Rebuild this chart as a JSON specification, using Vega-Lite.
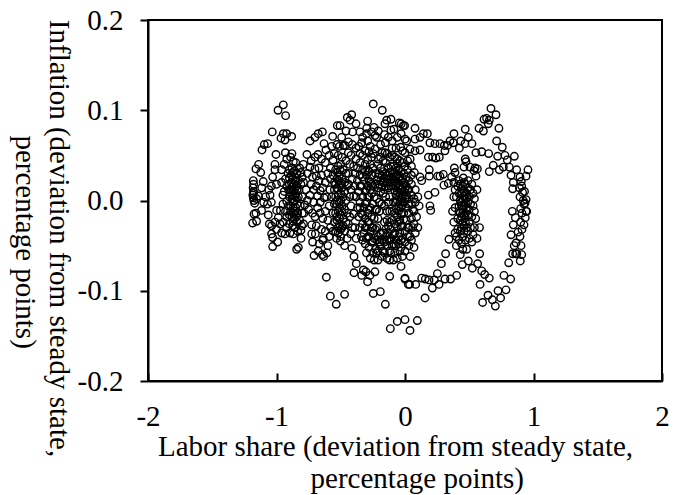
{"$schema":"https://vega.github.io/schema/vega-lite/v6.json","width":514,"height":361,"autosize":"none","padding":{"left":148,"top":20,"right":21,"bottom":114},"background":"white","view":{"stroke":"black","strokeWidth":2,"fill":null},
"config":{"axis":{"labelFont":"Liberation Serif","titleFont":"Liberation Serif","labelFontSize":29,"titleFontSize":29,"titleFontWeight":"normal","labelColor":"black","titleColor":"black","grid":false,"domainColor":"black","domainWidth":2,"tickColor":"black","tickWidth":2}},
"data":{"values":[
{"x":0.342,"y":-0.043},{"x":0.316,"y":-0.059},{"x":0.283,"y":-0.07},{"x":0.252,"y":-0.081},{"x":0.402,"y":-0.083},{"x":0.355,"y":-0.087},{"x":0.311,"y":-0.087},{"x":0.265,"y":-0.093},{"x":0.213,"y":-0.097},{"x":0.228,"y":-0.088},{"x":0.187,"y":-0.088},{"x":0.158,"y":-0.087},{"x":0.13,"y":-0.086},{"x":0.083,"y":-0.093},{"x":0.036,"y":-0.093},{"x":0.0,"y":-0.087},{"x":0.156,"y":-0.108},{"x":0.446,"y":-0.071},{"x":0.493,"y":-0.067},{"x":0.524,"y":-0.075},{"x":0.565,"y":-0.07},{"x":0.581,"y":-0.059},{"x":0.597,"y":-0.078},{"x":0.62,"y":-0.082},{"x":0.656,"y":-0.086},{"x":0.584,"y":-0.093},{"x":0.646,"y":-0.105},{"x":0.604,"y":-0.113},{"x":0.68,"y":-0.11},{"x":0.744,"y":-0.108},{"x":0.786,"y":-0.099},{"x":0.724,"y":-0.1},{"x":0.703,"y":-0.117},{"x":0.77,"y":-0.083},{"x":0.822,"y":-0.087},{"x":0.807,"y":-0.069},{"x":0.838,"y":-0.059},{"x":0.861,"y":-0.059},{"x":0.897,"y":-0.067},{"x":0.908,"y":-0.06},{"x":0.825,"y":-0.038},{"x":0.843,"y":-0.027},{"x":0.835,"y":-0.012},{"x":0.859,"y":-0.019},{"x":0.9,"y":-0.009},{"x":0.934,"y":-0.003},{"x":0.942,"y":-0.012},{"x":0.936,"y":-0.019},{"x":0.926,"y":-0.027},{"x":0.91,"y":-0.032},{"x":0.895,"y":-0.04},{"x":0.864,"y":-0.047},{"x":0.903,"y":-0.05},{"x":0.0,"y":-0.132},{"x":0.096,"y":-0.133},{"x":0.039,"y":-0.144},
{"x":-0.612,"y":-0.085},{"x":-0.581,"y":-0.106},{"x":-0.535,"y":-0.115},{"x":-0.47,"y":-0.104},{"x":-0.413,"y":-0.053},{"x":-0.397,"y":-0.062},{"x":-0.379,"y":-0.07},{"x":-0.397,"y":-0.08},{"x":-0.337,"y":-0.083},{"x":-0.324,"y":-0.077},{"x":-0.291,"y":-0.09},{"x":-0.273,"y":-0.083},{"x":-0.234,"y":-0.079},{"x":-0.304,"y":-0.079},{"x":-0.119,"y":-0.084},{"x":-0.247,"y":-0.103},{"x":-0.192,"y":-0.101},{"x":-0.153,"y":-0.115},{"x":-0.031,"y":-0.073},{"x":0.0,"y":-0.086},{"x":0.026,"y":-0.093},{"x":-0.06,"y":-0.134},{"x":-0.114,"y":-0.142},
{"x":-1.03,"y":-0.051},{"x":-0.843,"y":-0.054},{"x":-0.83,"y":-0.052},{"x":-0.708,"y":-0.061},{"x":-0.675,"y":-0.056},{"x":-0.633,"y":-0.062},{"x":-0.607,"y":-0.058},{"x":-0.643,"y":-0.06},{"x":-0.423,"y":-0.037},{"x":-0.503,"y":-0.045},{"x":-0.532,"y":-0.042},{"x":-0.719,"y":-0.046},{"x":-0.636,"y":-0.042},{"x":-0.667,"y":-0.048},{"x":-0.991,"y":-0.046},{"x":-1.03,"y":-0.041},{"x":-0.809,"y":-0.042},{"x":-1.186,"y":-0.025},{"x":-1.155,"y":-0.023},{"x":-1.175,"y":-0.015},{"x":-1.16,"y":-0.014},{"x":-1.116,"y":-0.011},{"x":-1.064,"y":-0.016},{"x":-0.999,"y":-0.011},{"x":-0.726,"y":-0.027},{"x":-0.786,"y":-0.014},{"x":-0.726,"y":-0.037},{"x":-0.698,"y":-0.037},{"x":-0.804,"y":-0.028},{"x":-1.056,"y":-0.026},{"x":-1.038,"y":-0.028},{"x":-1.012,"y":-0.024},{"x":-0.973,"y":-0.026},{"x":-0.947,"y":-0.024},{"x":-0.921,"y":-0.03},{"x":-0.895,"y":-0.036},{"x":-0.869,"y":-0.037},{"x":-1.038,"y":-0.037},{"x":-1.0,"y":-0.032},{"x":-0.96,"y":-0.036},{"x":-0.934,"y":-0.037},{"x":-0.986,"y":-0.019},
{"x":-0.947,"y":0.106},{"x":-0.988,"y":0.1},{"x":-0.929,"y":0.094},{"x":-1.033,"y":0.076},{"x":-0.247,"y":0.107},{"x":-0.177,"y":0.1},{"x":-0.415,"y":0.095},{"x":-0.449,"y":0.092},{"x":-0.428,"y":0.089},{"x":-0.381,"y":0.085},{"x":-0.527,"y":0.083},{"x":-0.506,"y":0.083},{"x":-0.291,"y":0.088},{"x":-0.109,"y":0.09},{"x":-0.143,"y":0.089},{"x":-0.156,"y":0.085},{"x":-0.044,"y":0.086},{"x":-0.013,"y":0.083},{"x":-0.241,"y":0.081},{"x":-0.208,"y":0.077},{"x":-0.086,"y":0.079},{"x":-0.298,"y":0.08},{"x":-0.459,"y":0.077},{"x":-0.407,"y":0.076},{"x":-0.35,"y":0.076},{"x":-0.643,"y":0.076},{"x":-0.675,"y":0.074},{"x":-0.701,"y":0.07},{"x":-0.739,"y":0.066},{"x":-0.563,"y":0.071},{"x":-0.493,"y":0.07},{"x":-0.63,"y":0.063},{"x":-0.337,"y":0.064},{"x":-0.381,"y":0.058},{"x":-0.467,"y":0.061},{"x":-0.947,"y":0.074},{"x":-0.921,"y":0.074},{"x":-0.882,"y":0.071},{"x":-0.965,"y":0.069},{"x":-0.934,"y":0.067},{"x":-1.069,"y":0.063},{"x":-1.095,"y":0.062},{"x":-1.113,"y":0.056},{"x":-1.004,"y":0.051},{"x":-0.931,"y":0.053},{"x":-0.88,"y":0.052},{"x":-0.763,"y":0.051},{"x":-0.677,"y":0.051},{"x":-0.153,"y":0.064},{"x":-0.234,"y":0.072},{"x":-0.221,"y":0.07},{"x":0.0,"y":0.068},{"x":-0.034,"y":0.059},{"x":-0.234,"y":0.057},{"x":-0.247,"y":0.052},{"x":-0.156,"y":0.053},{"x":-0.177,"y":0.053},{"x":-0.138,"y":0.052},{"x":-0.208,"y":0.046},{"x":-0.381,"y":0.046},{"x":-0.441,"y":0.053},{"x":-0.48,"y":0.061},{"x":-1.139,"y":0.04},{"x":-1.16,"y":0.035},{"x":-1.123,"y":0.031},{"x":-1.012,"y":0.04},{"x":-1.012,"y":0.034},{"x":-1.03,"y":0.026},{"x":-1.103,"y":0.021},{"x":-0.869,"y":0.043},{"x":-0.791,"y":0.04},{"x":-0.701,"y":0.035},{"x":-1.18,"y":0.022},
{"x":0.669,"y":0.102},{"x":0.708,"y":0.095},{"x":0.635,"y":0.091},{"x":0.615,"y":0.09},{"x":0.656,"y":0.089},{"x":0.648,"y":0.085},{"x":0.576,"y":0.08},{"x":0.61,"y":0.077},{"x":0.731,"y":0.08},{"x":0.469,"y":0.079},{"x":0.493,"y":0.07},{"x":0.521,"y":0.063},{"x":0.381,"y":0.074},{"x":0.713,"y":0.066},{"x":0.757,"y":0.059},{"x":0.651,"y":0.052},{"x":0.552,"y":0.053},{"x":0.597,"y":0.054},{"x":0.721,"y":0.049},{"x":0.851,"y":0.049},{"x":0.778,"y":0.05},{"x":0.796,"y":0.045},{"x":0.687,"y":0.039},{"x":0.656,"y":0.032},{"x":0.734,"y":0.034},{"x":0.765,"y":0.037},{"x":0.812,"y":0.037},{"x":0.869,"y":0.034},{"x":0.825,"y":0.028},{"x":0.957,"y":0.034},{"x":0.942,"y":0.027},{"x":0.895,"y":0.026},{"x":0.843,"y":0.02},{"x":0.908,"y":0.016},{"x":0.89,"y":0.014},{"x":0.838,"y":0.013},{"x":0.895,"y":0.004},{"x":0.942,"y":0.001},{"x":0.926,"y":-0.004},{"x":0.947,"y":-0.012},
{"x":0.078,"y":0.08},{"x":-0.029,"y":0.085},{"x":-0.003,"y":0.083},{"x":0.143,"y":0.074},{"x":0.174,"y":0.074},{"x":0.117,"y":0.07},{"x":0.078,"y":0.068},{"x":0.013,"y":0.066},{"x":0.194,"y":0.064},{"x":0.233,"y":0.063},{"x":0.272,"y":0.063},{"x":0.306,"y":0.061},{"x":0.35,"y":0.066},{"x":0.376,"y":0.064},{"x":0.423,"y":0.058},{"x":0.467,"y":0.063},{"x":0.433,"y":0.066},{"x":0.332,"y":0.061},{"x":0.311,"y":0.055},{"x":0.182,"y":0.048},{"x":0.215,"y":0.048},{"x":0.241,"y":0.047},{"x":0.267,"y":0.048},{"x":0.117,"y":0.056},{"x":0.078,"y":0.055},{"x":0.039,"y":0.057},{"x":0.0,"y":0.053},{"x":0.469,"y":0.046},{"x":0.475,"y":0.043},{"x":0.459,"y":0.037},{"x":0.506,"y":0.037},{"x":0.545,"y":0.036},{"x":0.563,"y":0.035},{"x":0.537,"y":0.033},{"x":0.552,"y":0.027},{"x":0.454,"y":0.025},{"x":0.384,"y":0.036},{"x":0.389,"y":0.031},{"x":0.298,"y":0.029},{"x":0.272,"y":0.027},{"x":0.254,"y":0.027},{"x":0.189,"y":0.034},{"x":0.189,"y":0.027},{"x":0.363,"y":0.026},{"x":0.337,"y":0.019},{"x":0.303,"y":0.017},{"x":0.233,"y":0.009},{"x":0.182,"y":0.006},{"x":0.194,"y":-0.006},{"x":0.2,"y":-0.011},{"x":0.117,"y":0.026},{"x":0.13,"y":0.022},{"x":0.073,"y":0.031},
{"x":-1.178,"y":0.018},{"x":-1.182,"y":0.014},{"x":-1.179,"y":0.01},{"x":-1.184,"y":0.006},{"x":-1.18,"y":0.003},{"x":-1.176,"y":0.0},{"x":-1.17,"y":-0.003},{"x":-1.18,"y":0.008},{"x":-1.155,"y":0.002},{"x":-1.14,"y":0.005},{"x":-1.1,"y":-0.002},{"x":-1.085,"y":0.004},{"x":-1.07,"y":-0.004},{"x":-1.05,"y":0.006},{"x":-1.04,"y":-0.002},{"x":-1.115,"y":0.014},{"x":-1.06,"y":0.012},{"x":-1.04,"y":0.016},{"x":-1.0,"y":0.018},
{"x":-0.91,"y":0.03},{"x":-0.9,"y":0.034},{"x":-0.88,"y":0.036},{"x":-0.86,"y":0.033},{"x":-0.84,"y":0.03},{"x":-0.82,"y":0.036},{"x":-0.8,"y":0.026},{"x":-0.9,"y":0.025},{"x":-0.885,"y":0.028},{"x":-0.87,"y":0.024},{"x":-0.85,"y":0.025},{"x":-0.83,"y":0.022},{"x":-0.81,"y":0.018},{"x":-0.9,"y":0.018},{"x":-0.885,"y":0.02},{"x":-0.865,"y":0.018},{"x":-0.845,"y":0.016},{"x":-0.825,"y":0.012},{"x":-0.905,"y":0.012},{"x":-0.885,"y":0.012},{"x":-0.87,"y":0.01},{"x":-0.85,"y":0.008},{"x":-0.83,"y":0.004},{"x":-0.8,"y":0.004},{"x":-0.9,"y":0.004},{"x":-0.88,"y":0.002},{"x":-0.86,"y":0.0},{"x":-0.84,"y":-0.004},{"x":-0.815,"y":-0.006},{"x":-0.91,"y":-0.006},{"x":-0.89,"y":-0.006},{"x":-0.87,"y":-0.008},{"x":-0.855,"y":-0.012},{"x":-0.835,"y":-0.014},{"x":-0.9,"y":-0.016},{"x":-0.88,"y":-0.018},{"x":-0.86,"y":-0.02},{"x":-0.84,"y":-0.024},{"x":-0.82,"y":-0.022},{"x":-0.9,"y":-0.026},{"x":-0.875,"y":-0.028},{"x":-0.855,"y":-0.03},{"x":-0.835,"y":-0.034},{"x":-0.93,"y":-0.012},{"x":-0.95,"y":-0.004},{"x":-0.94,"y":0.01},{"x":-0.77,"y":0.012},{"x":-0.76,"y":0.0},{"x":-0.75,"y":-0.01},
{"x":-0.875,"y":0.031},{"x":-0.855,"y":0.021},{"x":-0.875,"y":0.015},{"x":-0.86,"y":0.012},{"x":-0.84,"y":0.012},{"x":-0.875,"y":0.006},{"x":-0.86,"y":0.005},{"x":-0.845,"y":0.003},{"x":-0.875,"y":-0.002},{"x":-0.85,"y":-0.008},{"x":-0.865,"y":-0.014},{"x":-0.845,"y":-0.018},{"x":-0.87,"y":-0.023},{"x":-0.89,"y":-0.012},{"x":-0.895,"y":0.009},
{"x":-0.73,"y":0.018},{"x":-0.71,"y":0.012},{"x":-0.69,"y":0.016},{"x":-0.67,"y":0.022},{"x":-0.65,"y":0.028},{"x":-0.72,"y":0.026},{"x":-0.68,"y":0.005},{"x":-0.66,"y":0.011},{"x":-0.64,"y":0.014},{"x":-0.62,"y":0.02},{"x":-0.6,"y":0.03},{"x":-0.62,"y":0.042},{"x":-0.65,"y":0.046},{"x":-0.59,"y":0.05},{"x":-0.615,"y":0.056},{"x":-0.57,"y":0.06},{"x":-0.56,"y":0.045},{"x":-0.68,"y":-0.008},{"x":-0.66,"y":-0.014},{"x":-0.64,"y":-0.02},{"x":-0.62,"y":-0.012},{"x":-0.6,"y":-0.022},{"x":-0.65,"y":-0.032},{"x":-0.62,"y":-0.034},{"x":-0.59,"y":-0.04},{"x":-0.7,"y":-0.018},{"x":-0.61,"y":0.004},{"x":-0.585,"y":0.012},{"x":-0.59,"y":-0.006},
{"x":-0.56,"y":0.028},{"x":-0.54,"y":0.034},{"x":-0.52,"y":0.038},{"x":-0.5,"y":0.04},{"x":-0.48,"y":0.034},{"x":-0.46,"y":0.03},{"x":-0.55,"y":0.02},{"x":-0.53,"y":0.024},{"x":-0.51,"y":0.028},{"x":-0.49,"y":0.024},{"x":-0.47,"y":0.02},{"x":-0.45,"y":0.016},{"x":-0.55,"y":0.012},{"x":-0.53,"y":0.014},{"x":-0.51,"y":0.018},{"x":-0.49,"y":0.014},{"x":-0.47,"y":0.01},{"x":-0.54,"y":0.004},{"x":-0.52,"y":0.006},{"x":-0.5,"y":0.008},{"x":-0.48,"y":0.004},{"x":-0.46,"y":0.0},{"x":-0.55,"y":-0.004},{"x":-0.53,"y":-0.004},{"x":-0.51,"y":-0.002},{"x":-0.49,"y":-0.006},{"x":-0.47,"y":-0.01},{"x":-0.45,"y":-0.014},{"x":-0.56,"y":-0.014},{"x":-0.54,"y":-0.014},{"x":-0.52,"y":-0.012},{"x":-0.5,"y":-0.016},{"x":-0.48,"y":-0.02},{"x":-0.46,"y":-0.024},{"x":-0.55,"y":-0.024},{"x":-0.53,"y":-0.022},{"x":-0.51,"y":-0.026},{"x":-0.49,"y":-0.03},{"x":-0.47,"y":-0.034},{"x":-0.56,"y":-0.034},{"x":-0.54,"y":-0.034},{"x":-0.52,"y":-0.036},{"x":-0.5,"y":-0.04},{"x":-0.44,"y":0.03},{"x":-0.43,"y":0.04},{"x":-0.42,"y":0.012},{"x":-0.42,"y":-0.006},
{"x":-0.525,"y":0.031},{"x":-0.505,"y":0.034},{"x":-0.515,"y":0.022},{"x":-0.495,"y":0.019},{"x":-0.54,"y":0.018},{"x":-0.52,"y":0.012},{"x":-0.5,"y":0.0},{"x":-0.53,"y":0.0},{"x":-0.51,"y":-0.008},{"x":-0.53,"y":-0.018},{"x":-0.51,"y":-0.02},{"x":-0.49,"y":-0.012},{"x":-0.52,"y":-0.03},{"x":-0.5,"y":-0.032},{"x":-0.48,"y":-0.028},
{"x":-0.39,"y":0.03},{"x":-0.37,"y":0.036},{"x":-0.35,"y":0.042},{"x":-0.33,"y":0.05},{"x":-0.31,"y":0.055},{"x":-0.39,"y":0.016},{"x":-0.37,"y":0.022},{"x":-0.35,"y":0.028},{"x":-0.33,"y":0.034},{"x":-0.31,"y":0.04},{"x":-0.29,"y":0.045},{"x":-0.27,"y":0.04},{"x":-0.38,"y":0.004},{"x":-0.36,"y":0.01},{"x":-0.34,"y":0.016},{"x":-0.32,"y":0.022},{"x":-0.3,"y":0.028},{"x":-0.28,"y":0.032},{"x":-0.26,"y":0.028},{"x":-0.37,"y":-0.008},{"x":-0.35,"y":-0.002},{"x":-0.33,"y":0.004},{"x":-0.31,"y":0.01},{"x":-0.29,"y":0.016},{"x":-0.27,"y":0.02},{"x":-0.25,"y":0.016},{"x":-0.36,"y":-0.018},{"x":-0.34,"y":-0.014},{"x":-0.32,"y":-0.008},{"x":-0.3,"y":-0.002},{"x":-0.28,"y":0.004},{"x":-0.26,"y":0.008},{"x":-0.24,"y":0.004},{"x":-0.35,"y":-0.03},{"x":-0.33,"y":-0.026},{"x":-0.31,"y":-0.02},{"x":-0.29,"y":-0.014},{"x":-0.27,"y":-0.008},{"x":-0.25,"y":-0.004},{"x":-0.23,"y":-0.01},{"x":-0.34,"y":-0.04},{"x":-0.32,"y":-0.036},{"x":-0.3,"y":-0.03},{"x":-0.28,"y":-0.024},{"x":-0.26,"y":-0.018},{"x":-0.24,"y":-0.02},{"x":-0.31,"y":-0.048},{"x":-0.29,"y":-0.04},{"x":-0.27,"y":-0.034},{"x":-0.25,"y":-0.03},{"x":-0.23,"y":-0.032},{"x":-0.3,"y":-0.058},{"x":-0.28,"y":-0.052},{"x":-0.26,"y":-0.046},{"x":-0.24,"y":-0.042},{"x":-0.22,"y":-0.044},{"x":-0.27,"y":-0.064},{"x":-0.25,"y":-0.058},{"x":-0.23,"y":-0.054},{"x":-0.21,"y":-0.056},{"x":-0.19,"y":-0.05},{"x":-0.24,"y":-0.066},{"x":-0.21,"y":-0.066},{"x":-0.18,"y":-0.062},{"x":-0.16,"y":-0.058},{"x":-0.14,"y":-0.064},{"x":-0.12,"y":-0.056},{"x":-0.16,"y":-0.046},{"x":-0.14,"y":-0.05},{"x":-0.12,"y":-0.044},{"x":-0.1,"y":-0.05},{"x":-0.08,"y":-0.058},{"x":-0.06,"y":-0.064},{"x":-0.09,"y":-0.066},{"x":-0.04,"y":-0.056},{"x":-0.17,"y":-0.036},{"x":-0.15,"y":-0.032},{"x":-0.13,"y":-0.036},{"x":-0.11,"y":-0.032},{"x":-0.09,"y":-0.038},{"x":-0.07,"y":-0.044},{"x":-0.05,"y":-0.048},{"x":-0.03,"y":-0.052},{"x":-0.02,"y":-0.042},{"x":-0.04,"y":-0.036},{"x":-0.06,"y":-0.03},{"x":-0.08,"y":-0.026},{"x":-0.1,"y":-0.022},{"x":-0.12,"y":-0.024},{"x":-0.14,"y":-0.012},{"x":-0.16,"y":-0.006},{"x":-0.18,"y":-0.004},{"x":-0.2,"y":-0.002},{"x":-0.22,"y":0.002},{"x":-0.12,"y":-0.012},{"x":-0.1,"y":-0.012},{"x":-0.08,"y":-0.014},{"x":-0.06,"y":-0.018},{"x":-0.04,"y":-0.022},{"x":-0.02,"y":-0.028},{"x":0.0,"y":-0.034},{"x":0.02,"y":-0.04},{"x":0.03,"y":-0.03},{"x":0.01,"y":-0.022},{"x":-0.01,"y":-0.014},{"x":-0.03,"y":-0.008},{"x":-0.05,"y":-0.006},{"x":-0.07,"y":-0.002},{"x":-0.09,"y":-0.002},{"x":-0.13,"y":-0.002},{"x":-0.15,"y":0.004},{"x":-0.17,"y":0.008},{"x":-0.19,"y":0.01},{"x":-0.21,"y":0.014},{"x":-0.23,"y":0.018},{"x":-0.12,"y":0.004},{"x":-0.07,"y":0.006},{"x":-0.05,"y":0.004},{"x":-0.03,"y":0.002},{"x":-0.01,"y":-0.002},{"x":0.01,"y":-0.008},{"x":0.03,"y":-0.014},{"x":0.05,"y":-0.02},{"x":0.07,"y":-0.012},{"x":0.05,"y":-0.004},{"x":0.03,"y":0.002},{"x":0.01,"y":0.006},{"x":-0.01,"y":0.01},{"x":-0.03,"y":0.012},{"x":-0.05,"y":0.014},{"x":-0.07,"y":0.016},{"x":-0.09,"y":0.016},{"x":-0.11,"y":0.016},{"x":-0.13,"y":0.014},{"x":-0.15,"y":0.016},{"x":-0.17,"y":0.02},{"x":-0.19,"y":0.022},{"x":-0.21,"y":0.026},{"x":-0.23,"y":0.03},{"x":-0.25,"y":0.036},{"x":-0.13,"y":0.024},{"x":-0.11,"y":0.026},{"x":-0.09,"y":0.026},{"x":-0.07,"y":0.026},{"x":-0.05,"y":0.024},{"x":-0.03,"y":0.022},{"x":-0.01,"y":0.02},{"x":0.01,"y":0.016},{"x":0.03,"y":0.012},{"x":0.05,"y":0.006},{"x":0.07,"y":0.002},{"x":-0.15,"y":0.03},{"x":-0.17,"y":0.032},{"x":-0.19,"y":0.036},{"x":-0.21,"y":0.04},{"x":-0.13,"y":0.036},{"x":-0.11,"y":0.038},{"x":-0.09,"y":0.038},{"x":-0.07,"y":0.036},{"x":-0.05,"y":0.034},{"x":-0.03,"y":0.032},{"x":-0.01,"y":0.03},{"x":0.01,"y":0.026},{"x":0.03,"y":0.022},{"x":0.05,"y":0.018},{"x":-0.12,"y":0.048},{"x":-0.1,"y":0.05},{"x":-0.08,"y":0.048},{"x":-0.06,"y":0.046},{"x":-0.04,"y":0.044},{"x":-0.02,"y":0.042},{"x":0.0,"y":0.038},{"x":0.02,"y":0.034},{"x":-0.07,"y":0.058},{"x":0.02,"y":0.044},{"x":0.05,"y":0.038},{"x":0.08,"y":0.012},{"x":0.1,"y":0.004},{"x":0.11,"y":-0.006},{"x":0.09,"y":-0.018},{"x":0.1,"y":-0.03},{"x":0.08,"y":-0.036},{"x":0.06,"y":-0.03},{"x":0.05,"y":-0.044},{"x":0.03,"y":-0.05},{"x":0.0,"y":-0.056},{"x":-0.02,"y":-0.062},{"x":0.04,"y":-0.062},{"x":0.07,"y":-0.052},
{"x":-0.06,"y":0.041},{"x":-0.08,"y":0.031},{"x":-0.06,"y":0.029},{"x":-0.04,"y":0.027},{"x":-0.02,"y":0.025},{"x":-0.08,"y":0.021},{"x":-0.06,"y":0.019},{"x":-0.04,"y":0.017},{"x":-0.02,"y":0.015},{"x":0.0,"y":0.012},{"x":-0.08,"y":0.011},{"x":-0.06,"y":0.01},{"x":-0.04,"y":0.008},{"x":-0.02,"y":0.005},{"x":-0.06,"y":0.0},{"x":-0.04,"y":-0.002},{"x":-0.02,"y":-0.005},{"x":0.0,"y":0.002},{"x":-0.05,"y":-0.012},{"x":-0.03,"y":-0.015},{"x":-0.01,"y":-0.021},{"x":-0.03,"y":-0.029},{"x":-0.05,"y":-0.024},{"x":-0.07,"y":-0.009},{"x":-0.1,"y":0.032},{"x":-0.12,"y":0.031},{"x":-0.14,"y":0.028},{"x":-0.16,"y":0.024},{"x":-0.18,"y":0.027},{"x":-0.1,"y":0.021},{"x":-0.12,"y":0.02},{"x":-0.14,"y":0.02},{"x":-0.16,"y":0.012},{"x":-0.18,"y":0.015},{"x":-0.2,"y":0.018},{"x":-0.22,"y":0.022},{"x":-0.2,"y":0.03},{"x":-0.15,"y":0.042},{"x":-0.17,"y":0.044},{"x":-0.28,"y":0.022},{"x":-0.26,"y":0.018},{"x":-0.3,"y":0.012},{"x":-0.28,"y":-0.01},{"x":-0.26,"y":-0.03},{"x":-0.25,"y":-0.045},{"x":-0.22,"y":-0.058},{"x":-0.17,"y":-0.056},{"x":-0.14,"y":-0.044},{"x":-0.11,"y":-0.058},{"x":-0.22,"y":-0.03},{"x":-0.21,"y":-0.04},{"x":-0.19,"y":-0.036},{"x":-0.18,"y":-0.044},{"x":-0.08,"y":-0.036},{"x":-0.07,"y":-0.05},{"x":-0.05,"y":-0.04},{"x":-0.03,"y":-0.044},{"x":0.0,"y":-0.046},{"x":0.02,"y":-0.03},{"x":0.04,"y":-0.04},
{"x":0.39,"y":0.012},{"x":0.41,"y":0.016},{"x":0.43,"y":0.018},{"x":0.45,"y":0.016},{"x":0.47,"y":0.018},{"x":0.49,"y":0.014},{"x":0.51,"y":0.012},{"x":0.53,"y":0.008},{"x":0.4,"y":0.004},{"x":0.42,"y":0.008},{"x":0.44,"y":0.008},{"x":0.46,"y":0.01},{"x":0.48,"y":0.008},{"x":0.5,"y":0.004},{"x":0.43,"y":0.0},{"x":0.45,"y":0.002},{"x":0.47,"y":0.002},{"x":0.49,"y":-0.002},{"x":0.42,"y":-0.006},{"x":0.44,"y":-0.006},{"x":0.46,"y":-0.006},{"x":0.48,"y":-0.008},{"x":0.5,"y":-0.01},{"x":0.43,"y":-0.014},{"x":0.45,"y":-0.014},{"x":0.47,"y":-0.014},{"x":0.49,"y":-0.016},{"x":0.41,"y":-0.02},{"x":0.43,"y":-0.022},{"x":0.45,"y":-0.024},{"x":0.47,"y":-0.024},{"x":0.5,"y":-0.024},{"x":0.52,"y":-0.018},{"x":0.54,"y":-0.012},{"x":0.39,"y":-0.008},{"x":0.41,"y":-0.032},{"x":0.43,"y":-0.034},{"x":0.46,"y":-0.034},{"x":0.49,"y":-0.034},{"x":0.51,"y":-0.03},{"x":0.54,"y":-0.03},{"x":0.42,"y":-0.044},{"x":0.44,"y":-0.048},{"x":0.47,"y":-0.044},{"x":0.5,"y":-0.042},{"x":0.56,"y":-0.042},{"x":0.53,"y":-0.038},{"x":0.45,"y":-0.054},{"x":0.4,"y":-0.05},
{"x":0.44,"y":0.013},{"x":0.46,"y":0.005},{"x":0.44,"y":-0.002},{"x":0.47,"y":-0.003},{"x":0.45,"y":-0.01},{"x":0.47,"y":-0.019},{"x":0.44,"y":-0.018},{"x":0.46,"y":-0.028},{"x":0.44,"y":-0.03},{"x":0.48,"y":-0.03},{"x":0.45,"y":-0.04},{"x":0.485,"y":0.003},{"x":0.42,"y":-0.012},{"x":0.905,"y":0.021},{"x":0.915,"y":0.009},{"x":0.92,"y":0.0},{"x":0.91,"y":-0.014},{"x":0.9,"y":-0.024},{"x":0.88,"y":-0.035},{"x":0.93,"y":0.01},{"x":0.85,"y":-0.05},{"x":0.87,"y":-0.059},
{"x":-0.96,"y":0.034},{"x":-0.94,"y":0.04},{"x":-0.92,"y":0.046},{"x":-0.89,"y":0.048},{"x":-0.85,"y":0.042},{"x":-0.81,"y":0.031},{"x":-0.79,"y":0.02},{"x":-0.78,"y":-0.005},{"x":-0.96,"y":0.02},{"x":-0.93,"y":0.024},{"x":-0.92,"y":0.016},{"x":-0.95,"y":0.006},{"x":-0.92,"y":-0.001},{"x":-0.97,"y":-0.011},{"x":-0.92,"y":-0.018},{"x":-0.8,"y":-0.014},{"x":-0.79,"y":-0.026},{"x":-0.81,"y":-0.033},
{"x":-0.76,"y":0.03},{"x":-0.74,"y":0.037},{"x":-0.73,"y":0.044},{"x":-0.7,"y":0.048},{"x":-0.69,"y":0.027},{"x":-0.67,"y":0.036},{"x":-0.74,"y":0.006},{"x":-0.71,"y":-0.002},{"x":-0.72,"y":-0.014},{"x":-0.66,"y":-0.002},{"x":-0.63,"y":0.003},{"x":-0.69,"y":-0.028},{"x":-0.64,"y":-0.044},{"x":-0.6,"y":-0.05},{"x":-0.58,"y":-0.03},{"x":-0.57,"y":0.004},{"x":-0.58,"y":0.024},{"x":-0.58,"y":0.036},
{"x":-0.55,"y":0.052},{"x":-0.52,"y":0.05},{"x":-0.49,"y":0.048},{"x":-0.46,"y":0.044},{"x":-0.53,"y":0.062},{"x":-0.51,"y":0.06},{"x":-0.44,"y":0.065},{"x":-0.41,"y":0.062},{"x":-0.42,"y":0.05},{"x":-0.44,"y":0.018},{"x":-0.43,"y":0.004},{"x":-0.44,"y":-0.026},{"x":-0.43,"y":-0.018},{"x":-0.41,"y":-0.03},{"x":-0.45,"y":-0.042},{"x":-0.47,"y":-0.05},{"x":-0.41,"y":0.024},{"x":-0.4,"y":0.038},{"x":-0.4,"y":0.005},{"x":-0.4,"y":-0.015},{"x":-0.39,"y":-0.03},{"x":-0.38,"y":-0.042},
{"x":-0.36,"y":0.06},{"x":-0.33,"y":0.07},{"x":-0.29,"y":0.066},{"x":-0.27,"y":0.06},{"x":-0.3,"y":0.074},{"x":-0.26,"y":0.076},{"x":-0.19,"y":0.062},{"x":-0.16,"y":0.073},{"x":-0.13,"y":0.07},{"x":-0.1,"y":0.066},{"x":-0.11,"y":0.078},{"x":-0.06,"y":0.07},{"x":-0.03,"y":0.074},{"x":-0.26,"y":0.048},{"x":-0.28,"y":0.054},{"x":-0.19,"y":0.048},{"x":-0.35,"y":0.052},{"x":-0.35,"y":0.016},{"x":-0.33,"y":0.026},{"x":-0.31,"y":0.032},{"x":-0.29,"y":0.034},{"x":-0.35,"y":-0.008},{"x":-0.33,"y":-0.016},{"x":-0.31,"y":-0.004},{"x":-0.29,"y":0.004},{"x":-0.27,"y":0.012},{"x":-0.31,"y":-0.03},{"x":-0.29,"y":-0.024},{"x":-0.33,"y":-0.044},{"x":-0.3,"y":-0.042},{"x":-0.28,"y":-0.04},{"x":-0.21,"y":-0.02},{"x":-0.2,"y":-0.012},{"x":-0.22,"y":-0.01},{"x":-0.2,"y":-0.046},{"x":-0.16,"y":-0.024},{"x":-0.15,"y":-0.04},{"x":-0.13,"y":-0.028},{"x":-0.14,"y":-0.022},{"x":-0.11,"y":-0.042},{"x":-0.09,"y":-0.048},{"x":-0.12,"y":-0.066},{"x":0.06,"y":-0.01},{"x":0.07,"y":-0.026},{"x":0.08,"y":-0.002},{"x":0.05,"y":0.028},{"x":0.04,"y":0.046},{"x":0.03,"y":-0.004},{"x":0.02,"y":0.012},{"x":-0.02,"y":0.055},{"x":-0.1,"y":0.058},
{"x":0.38,"y":0.004},{"x":0.37,"y":-0.012},{"x":0.38,"y":-0.024},{"x":0.39,"y":-0.036},{"x":0.52,"y":0.018},{"x":0.54,"y":0.002},{"x":0.53,"y":-0.006},{"x":0.55,"y":-0.02},{"x":0.42,"y":0.022},{"x":0.49,"y":0.022},{"x":0.46,"y":0.02},{"x":0.51,"y":-0.004},{"x":0.38,"y":0.02},{"x":0.52,"y":-0.046},{"x":0.48,"y":-0.054},{"x":0.43,"y":-0.06},{"x":0.56,"y":0.012},{"x":0.58,"y":-0.03},{"x":0.4,"y":-0.04},{"x":0.46,"y":-0.016}
]},
"mark":{"type":"point","shape":"circle","filled":false,"stroke":"black","strokeWidth":1.4,"size":56,"opacity":1},
"encoding":{
"x":{"field":"x","type":"quantitative","scale":{"domain":[-2,2],"nice":false},"axis":{"values":[-2,-1,0,1,2],"labelExpr":"datum.value<0?'-'+format(-datum.value,'d'):format(datum.value,'d')","tickSize":-8,"labelPadding":52,"labelBaseline":"alphabetic","domain":true,"title":["Labor share (deviation from steady state,","\u200b\u00a0\u00a0\u00a0\u00a0\u00a0\u00a0percentage points)"],"titleX":247,"titleY":74,"titleLineHeight":32,"titleBaseline":"alphabetic","labelFlush":false}},
"y":{"field":"y","type":"quantitative","scale":{"domain":[-0.2,0.2],"nice":false},"axis":{"values":[-0.2,-0.1,0,0.1,0.2],"labelExpr":"datum.value<0?'-'+format(-datum.value,'.1f'):format(datum.value,'.1f')","tickSize":8,"labelPadding":17,"domain":true,"title":["Inflation (deviation from steady state,","\u200b\u00a0percentage points)"],"titleAngle":90,"titleX":-99,"titleY":218,"titleLineHeight":34,"titleBaseline":"alphabetic","titleAlign":"center"}}
}}
